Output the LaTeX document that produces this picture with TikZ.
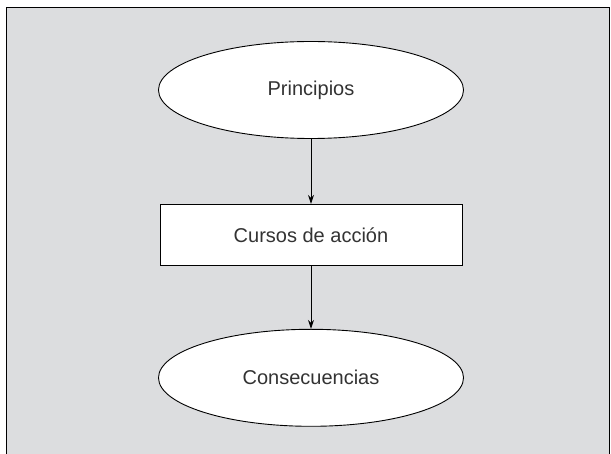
\documentclass[tikz,border=0pt]{standalone}
\usepackage{fontspec}
\setmainfont{Liberation Sans}
\usetikzlibrary{shapes.geometric,positioning,arrows.meta}
\definecolor{panelgray}{HTML}{DCDDDF}
\definecolor{inkgray}{HTML}{333333}
\tikzset{
  oval/.style = {ellipse, draw, fill = white, minimum width = 305pt,
                 minimum height = 97pt, inner sep = 0pt},
  box/.style  = {rectangle, draw, fill = white, minimum width = 302pt,
                 minimum height = 61pt, inner sep = 0pt},
  flow/.style = {-{Stealth[length = 9pt, width = 6pt]}}
}
\begin{document}
\begin{tikzpicture}[x = 1pt, y = -1pt, line width = 0.9pt,
    font = \fontsize{20}{22}\selectfont, text = inkgray]
  \useasboundingbox (0, 0) rectangle (611, 454);
  \clip (0, 0) rectangle (611, 454);
  \draw[fill = panelgray] (6, 7) rectangle (609, 470);
  \node[oval] (princ) at (311, 90) {Principios};
  \node[box, below = 65pt of princ] (cursos) {Cursos de acci\'on};
  \node[oval, below = 63pt of cursos] (conse) {Consecuencias};
  \draw[flow] (princ) -- (cursos);
  \draw[flow] (cursos) -- (conse);
\end{tikzpicture}
\end{document}
